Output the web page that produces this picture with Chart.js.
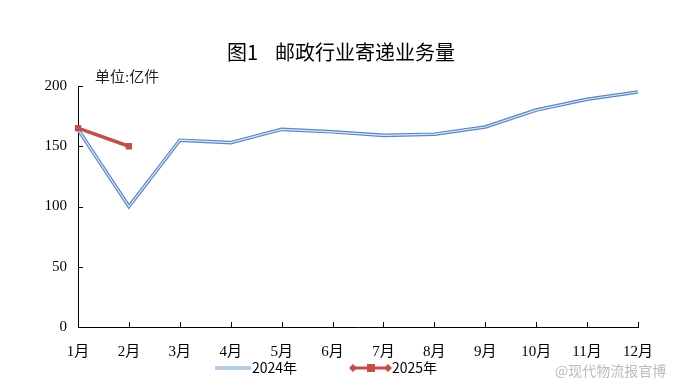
<!DOCTYPE html>
<html>
<head>
  <title>邮政行业寄递业务量</title>
  <script src="https://cdn.jsdelivr.net/npm/chart.js"></script>
  <style>
    body { margin: 0; background: #fff; }
  </style>
</head>
<body>
  <canvas id="chart" width="690" height="385"></canvas>

  <script>
    var months = ['1月', '2月', '3月', '4月', '5月', '6月', '7月', '8月', '9月', '10月', '11月', '12月'];
    var volume2024 = [164, 100, 155, 153, 164, 162, 159, 160, 166, 180, 189, 195];
    var volume2025 = [165, 150];
    var yTicks = [0, 50, 100, 150, 200];

    var serif = '"Liberation Serif", "Noto Sans CJK SC", serif';
    var sans = '"Noto Sans CJK SC", sans-serif';
    var blue = '#5b86c3';
    var red = '#c0504d';

    // ticks inside the axes, title, unit label, legend and watermark
    var decor = {
      id: 'decor',
      afterDraw: function (chart) {
        var c = chart.ctx;
        var x = chart.scales.x, y = chart.scales.y;
        c.save();
        c.strokeStyle = '#000';
        c.lineWidth = 1;
        c.beginPath();
        months.forEach(function (m, i) {
          var px = Math.round(x.getPixelForValue(i)) + 0.5;
          c.moveTo(px, y.bottom);
          c.lineTo(px, y.bottom - 5);
        });
        yTicks.forEach(function (v) {
          var py = Math.round(y.getPixelForValue(v)) + 0.5;
          c.moveTo(x.left, py);
          c.lineTo(x.left + 5, py);
        });
        c.stroke();

        c.fillStyle = '#000';
        c.textBaseline = 'middle';
        c.textAlign = 'left';
        c.font = '20px ' + sans;
        c.fillText('图1', 227, 52);
        c.fillText('邮政行业寄递业务量', 275, 52);

        c.font = '15px ' + serif;
        c.fillStyle = '#222';
        c.fillText('单位:亿件', 95, 78);

        // legend 2024: double line
        c.strokeStyle = '#7fa2cf';
        c.lineWidth = 3.2;
        c.beginPath(); c.moveTo(215, 368); c.lineTo(251, 368); c.stroke();
        c.strokeStyle = '#e4ecf6';
        c.lineWidth = 1.1;
        c.beginPath(); c.moveTo(215, 368); c.lineTo(251, 368); c.stroke();
        c.fillStyle = '#000';
        c.font = '14px ' + sans;
        c.fillText('2024年', 252, 368);

        // legend 2025: line with diamonds and square
        c.strokeStyle = red;
        c.fillStyle = red;
        c.lineWidth = 3;
        c.beginPath(); c.moveTo(353, 368); c.lineTo(388, 368); c.stroke();
        [353, 388].forEach(function (dx) {
          c.beginPath();
          c.moveTo(dx, 364); c.lineTo(dx + 4, 368); c.lineTo(dx, 372); c.lineTo(dx - 4, 368);
          c.closePath(); c.fill();
        });
        c.fillRect(367, 364, 8, 8);
        c.fillStyle = '#000';
        c.fillText('2025年', 392, 368);

        c.fillStyle = 'rgba(170,170,170,0.8)';
        c.font = '14px ' + sans;
        c.fillText('@现代物流报官博', 555, 371);
        c.restore();
      }
    };

    var ctx = document.getElementById('chart').getContext('2d');
    var chart = new Chart(ctx, {
      type: 'line',
      data: {
        labels: months,
        datasets: [
          {
            label: '2025年',
            data: volume2025,
            borderColor: red,
            backgroundColor: red,
            borderWidth: 3.5,
            pointStyle: 'rect',
            pointRadius: 4.5,
            pointBorderWidth: 0,
            tension: 0
          },
          {
            label: '2024年',
            data: volume2024,
            borderColor: '#dde7f3',
            borderWidth: 1.2,
            pointRadius: 0,
            tension: 0
          },
          {
            label: '2024年',
            data: volume2024,
            borderColor: blue,
            borderWidth: 3.6,
            pointRadius: 0,
            tension: 0
          }
        ]
      },
      options: {
        responsive: false,
        animation: false,
        layout: { padding: { left: 0, right: 52, top: 86, bottom: 0 } },
        plugins: {
          legend: { display: false },
          title: { display: false },
          tooltip: { enabled: false }
        },
        scales: {
          x: {
            offset: false,
            grid: { display: false, drawTicks: false },
            border: { color: '#000', width: 1 },
            afterFit: function (s) { s.height = 58; },
            ticks: {
              autoSkip: false,
              maxRotation: 0,
              padding: 16,
              color: '#000',
              font: { family: serif, size: 15 }
            }
          },
          y: {
            min: 0,
            max: 200,
            afterFit: function (s) { s.width = 78; },
            afterBuildTicks: function (s) {
              s.ticks = yTicks.map(function (v) { return { value: v }; });
            },
            grid: { display: false, drawTicks: false },
            border: { color: '#000', width: 1 },
            ticks: {
              padding: 11,
              color: '#000',
              font: { family: serif, size: 15 }
            }
          }
        }
      },
      plugins: [decor]
    });
  </script>
</body>
</html>
